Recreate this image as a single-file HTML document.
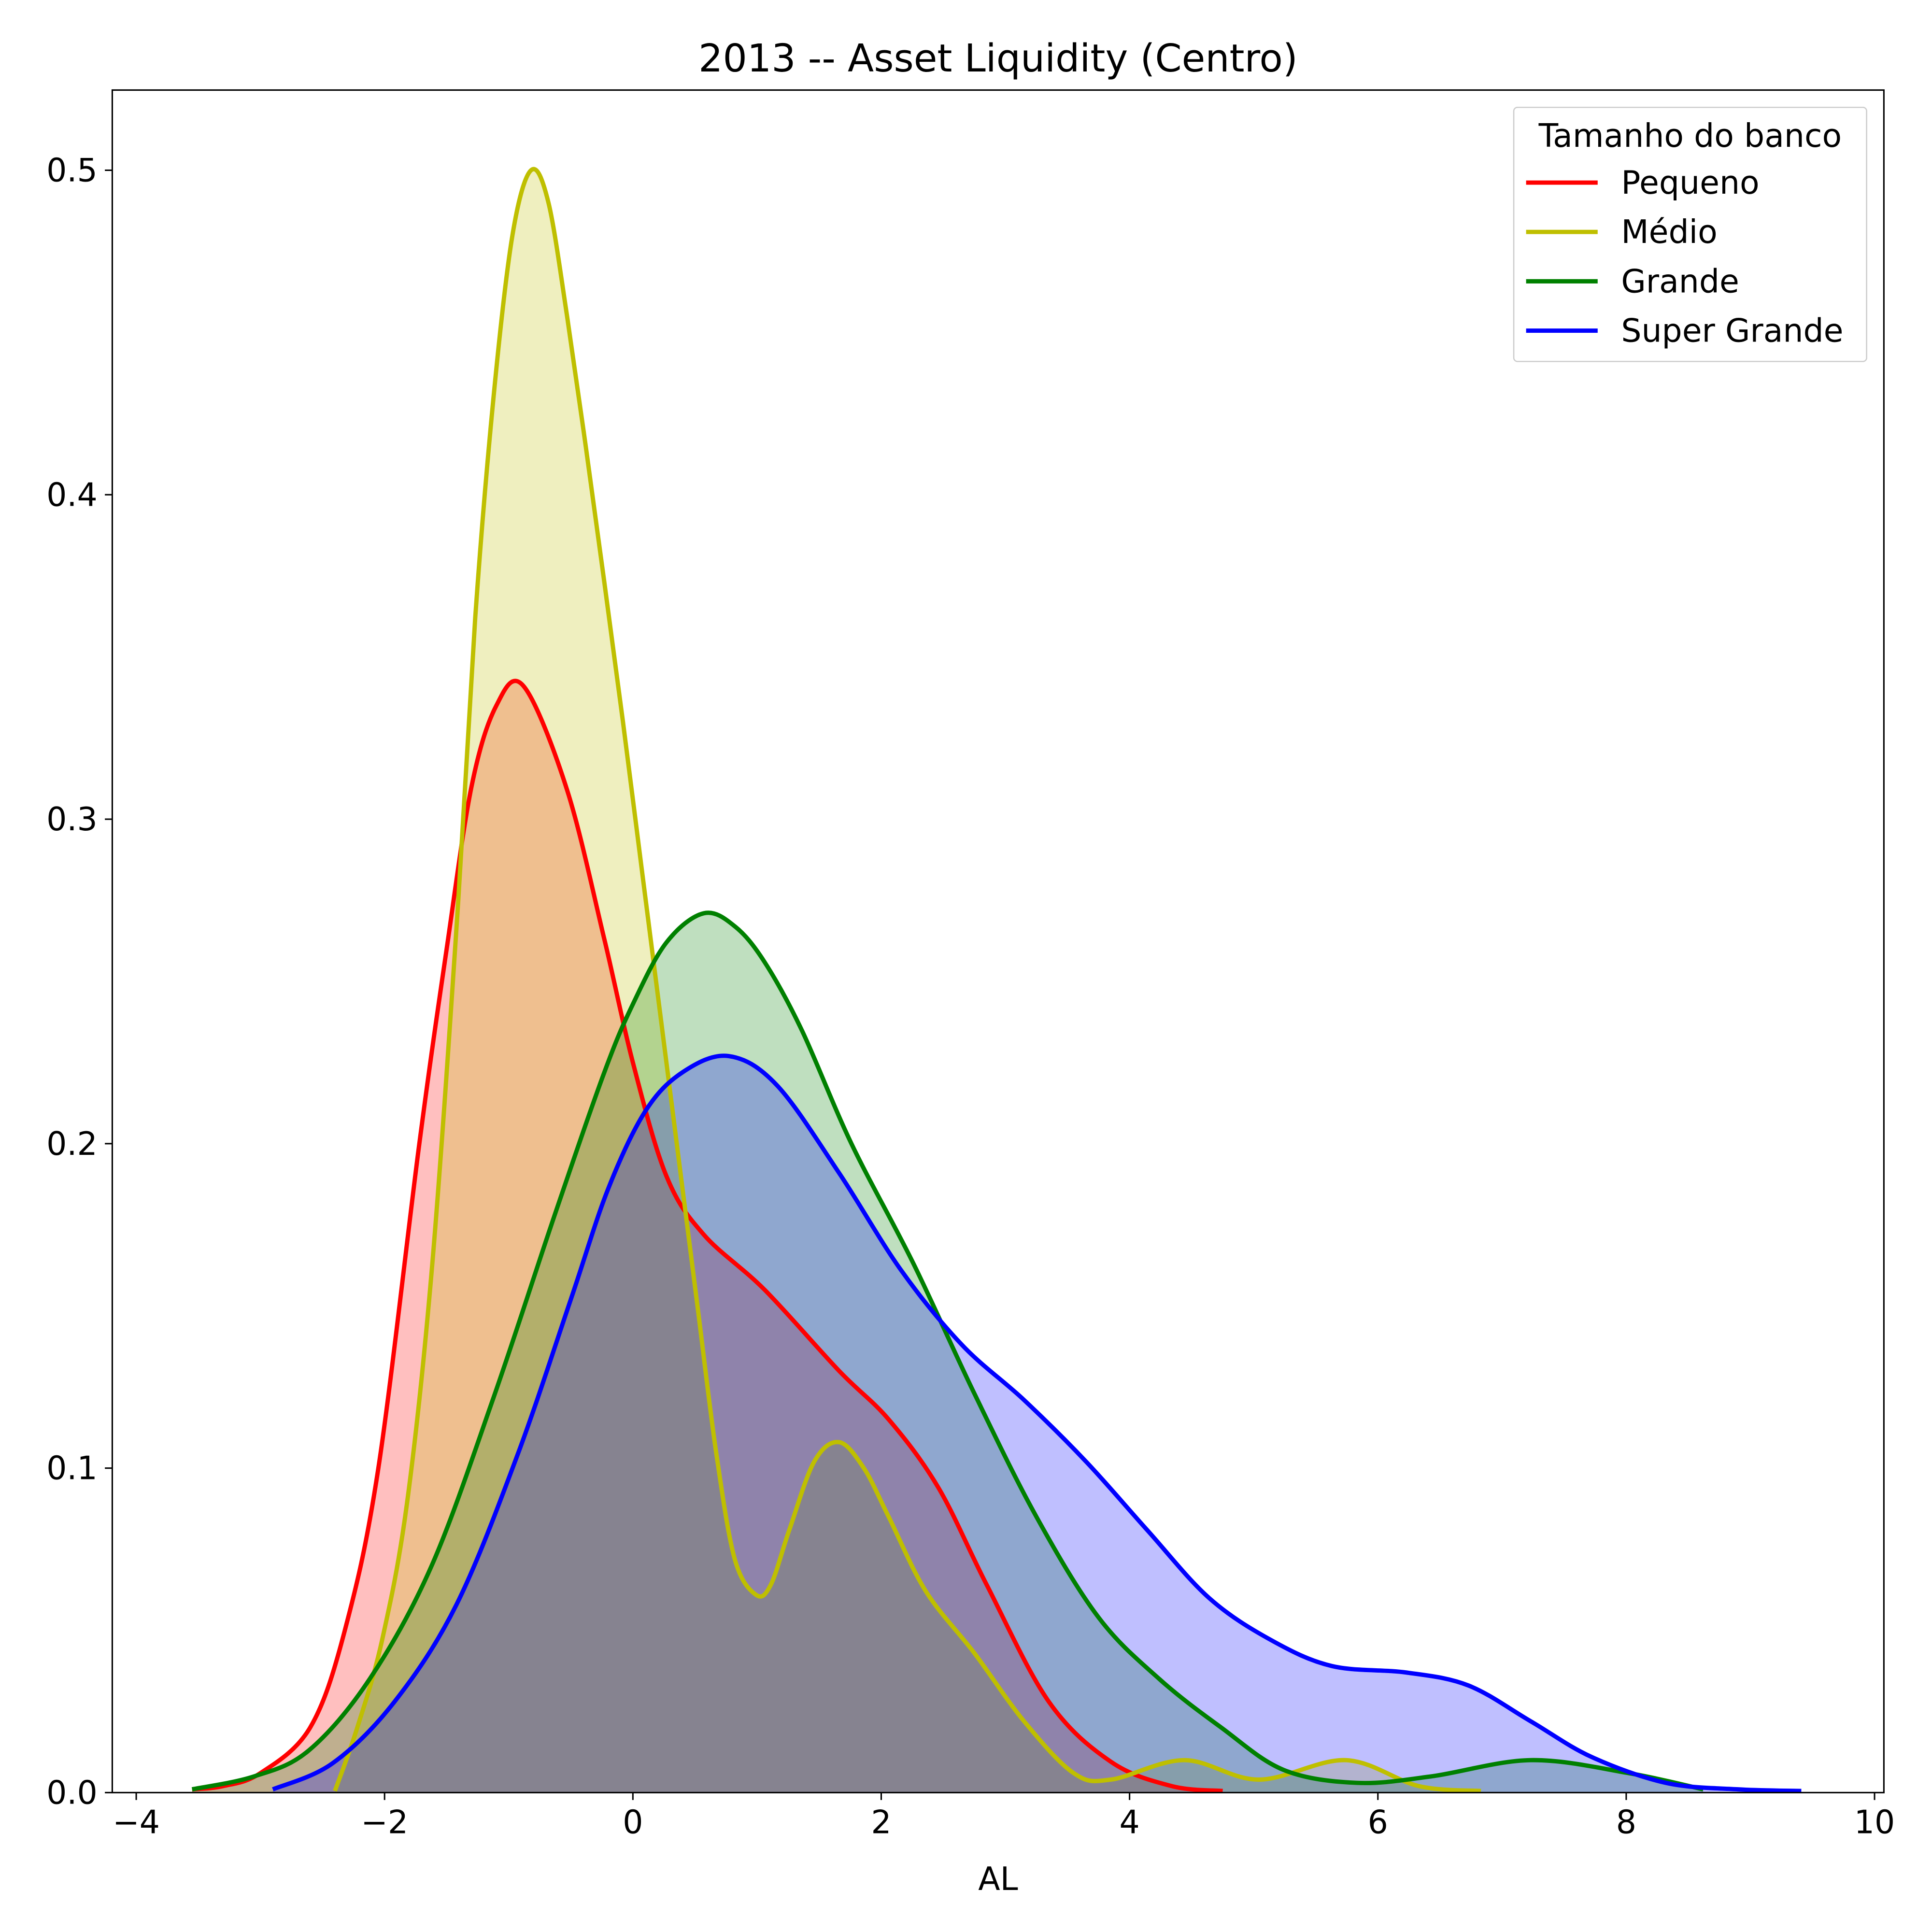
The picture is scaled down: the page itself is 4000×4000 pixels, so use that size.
<!DOCTYPE html>
<html><head><meta charset="utf-8"><style>html,body{margin:0;padding:0;background:#fff}svg{display:block}text{font-family:"DejaVu Sans","Liberation Sans",sans-serif;fill:#000}</style></head>
<body>
<svg id="chart" width="4000" height="4000" viewBox="0 0 1566 1566" xmlns="http://www.w3.org/2000/svg">
<rect x="0" y="0" width="1566" height="1566" fill="#fff"/>
<g id="fills"></g><g id="lines"></g><g id="axes"></g>
<text x="809" y="58" font-size="31" text-anchor="middle">2013 -- Asset Liquidity (Centro)</text>
<text x="809" y="1532" font-size="26" text-anchor="middle">AL</text>
<g>
<rect x="1227" y="87" width="286" height="206" fill="#fff" fill-opacity="0.8" stroke="#ccc" stroke-width="1" rx="3"/>
<text x="1370" y="119" font-size="26" text-anchor="middle">Tamanho do banco</text>
<g><line x1="1237" y1="148" x2="1295" y2="148" stroke="#ff0000" stroke-width="3.5"/><text x="1314" y="157" font-size="26">Pequeno</text></g>
<g><line x1="1237" y1="188" x2="1295" y2="188" stroke="#bfbf00" stroke-width="3.5"/><text x="1314" y="197" font-size="26">Médio</text></g>
<g><line x1="1237" y1="228" x2="1295" y2="228" stroke="#008000" stroke-width="3.5"/><text x="1314" y="237" font-size="26">Grande</text></g>
<g><line x1="1237" y1="268" x2="1295" y2="268" stroke="#0000ff" stroke-width="3.5"/><text x="1314" y="277" font-size="26">Super Grande</text></g>
</g>
</svg>
<script>
const xTicks=[-4,-2,0,2,4,6,8,10];
const yTicks=[0.0,0.1,0.2,0.3,0.4,0.5];
const pequenoX=[-3.55,-3.3,-3.0,-2.6,-2.32,-2.05,-1.72,-1.5,-1.3,-1.1,-0.88,-0.53,-0.23,0,0.27,0.57,1.06,1.66,2.06,2.46,2.85,3.35,3.85,4.34,4.75];
const pequenoY=[0.001,0.002,0.006,0.02,0.05,0.1,0.2,0.26,0.31,0.335,0.341,0.309,0.263,0.225,0.19,0.172,0.155,0.13,0.115,0.094,0.064,0.028,0.0095,0.002,0.0005];
const medioX=[-2.4,-2.22,-2.02,-1.82,-1.62,-1.42,-1.27,-1.12,-0.97,-0.82,-0.68,-0.53,-0.38,-0.23,-0.08,0.07,0.22,0.37,0.52,0.67,0.82,0.99,1.11,1.26,1.46,1.66,1.86,2.06,2.36,2.75,3.15,3.55,3.85,4.44,5.04,5.74,6.33,6.83];
const medioY=[0.0005,0.02,0.047,0.089,0.161,0.267,0.362,0.431,0.48,0.5,0.49,0.455,0.415,0.373,0.33,0.285,0.24,0.195,0.15,0.105,0.072,0.061,0.064,0.081,0.102,0.108,0.1,0.085,0.062,0.043,0.022,0.006,0.004,0.01,0.004,0.01,0.002,0.0005];
const grandeX=[-3.55,-3.05,-2.61,-2.12,-1.62,-1.12,-0.63,-0.23,0,0.27,0.57,0.82,1.06,1.36,1.76,2.26,2.75,3.25,3.75,4.24,4.74,5.24,5.83,6.43,7.23,8.02,8.62];
const grandeY=[0.001,0.005,0.013,0.035,0.07,0.122,0.178,0.222,0.243,0.262,0.271,0.267,0.256,0.235,0.2,0.163,0.123,0.085,0.054,0.035,0.02,0.007,0.003,0.005,0.01,0.006,0.001];
const superX=[-2.9,-2.42,-1.92,-1.42,-0.93,-0.5,-0.2,0.1,0.4,0.77,1.16,1.66,2.16,2.65,3.15,3.65,4.14,4.64,5.14,5.63,6.23,6.73,7.23,7.72,8.32,8.9,9.41];
const superY=[0.001,0.009,0.028,0.058,0.104,0.152,0.186,0.21,0.222,0.227,0.218,0.191,0.161,0.138,0.121,0.102,0.081,0.06,0.047,0.039,0.037,0.033,0.022,0.011,0.003,0.001,0.0005];
const L=91,R=1527,T=73,B=1453;
function sx(v){return 513+v*(1519-110)/14;}
function sy(v){return B-v*(B-138)/0.5;}
const NS='http://www.w3.org/2000/svg';
function mk(t,a,p){const e=document.createElementNS(NS,t);for(const k in a)e.setAttribute(k,a[k]);p.appendChild(e);return e;}
function pathD(xs,ys){const p=xs.map((x,i)=>[sx(x),sy(ys[i])]);let d='M'+p[0][0]+','+p[0][1];
for(let i=0;i<p.length-1;i++){const p0=p[Math.max(0,i-1)],p1=p[i],p2=p[i+1],p3=p[Math.min(p.length-1,i+2)];
const c1=[p1[0]+(p2[0]-p0[0])/6,p1[1]+(p2[1]-p0[1])/6],c2=[p2[0]-(p3[0]-p1[0])/6,p2[1]-(p3[1]-p1[1])/6];
d+=' C'+c1+' '+c2+' '+p2;}return d;}
const series=[['pequeno',pequenoX,pequenoY,'#ff0000'],['medio',medioX,medioY,'#bfbf00'],['grande',grandeX,grandeY,'#008000'],['super-grande',superX,superY,'#0000ff']];
const fg=document.getElementById('fills'),lg=document.getElementById('lines'),ag=document.getElementById('axes');
series.forEach(s=>{const d=pathD(s[1],s[2]);
const f=mk('path',{d:d+' L'+sx(s[1][s[1].length-1])+','+B+' L'+sx(s[1][0])+','+B+' Z',fill:s[3],'fill-opacity':0.25,stroke:'none'},fg);


const l=mk('path',{d:d,fill:'none',stroke:s[3],'stroke-width':3.5,'stroke-linejoin':'round'},lg);

});
const fr=mk('rect',{x:L,y:T,width:R-L,height:B-T,fill:'none',stroke:'#000','stroke-width':1.2},ag);


xTicks.forEach(v=>{const x=sx(v);mk('line',{x1:x,y1:B,x2:x,y2:B+6,stroke:'#000','stroke-width':1.2},ag);
const t=mk('text',{x:x,y:B+33,'font-size':26,'text-anchor':'middle'},ag);t.textContent=(v<0?'\u2212'+(-v):''+v);

});
yTicks.forEach(v=>{const y=sy(v);mk('line',{x1:L,y1:y,x2:L-6,y2:y,stroke:'#000','stroke-width':1.2},ag);
const t=mk('text',{x:L-12,y:y+9,'font-size':26,'text-anchor':'end'},ag);t.textContent=v.toFixed(1);

});
</script>
</body></html>
